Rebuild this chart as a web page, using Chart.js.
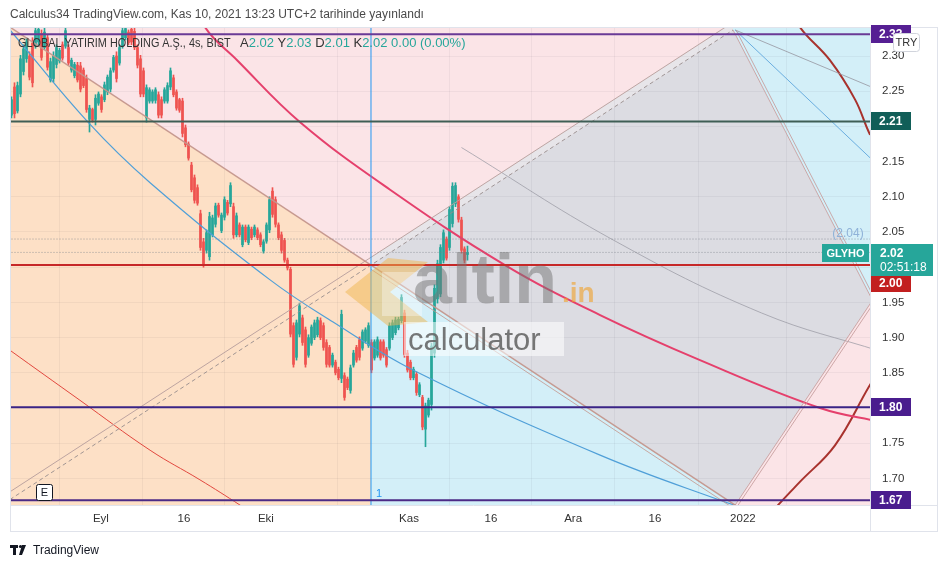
<!DOCTYPE html>
<html lang="tr">
<head>
<meta charset="UTF-8">
<title>GLYHO 4s - BIST</title>
<script src="https://cdn.jsdelivr.net/npm/chart.js"></script>
<style>
  html, body { margin: 0; padding: 0; background: #ffffff; }
  #kutu { width: 949px; height: 568px; }
</style>
</head>
<body>
<div id="kutu"><canvas id="grafik" width="949" height="568"></canvas></div>
<script>
// 4 saatlik mumlar (acilis / yuksek / dusuk / kapanis), Agustos sonu -> 10 Kasim 2021
const opens = [2.216,2.256,2.222,2.246,2.278,2.296,2.300,2.318,2.315,2.320,2.332,2.312,2.326,2.266,2.268,2.288,2.293,2.316,2.314,2.312,
  2.280,2.272,2.287,2.286,2.280,2.268,2.210,2.224,2.210,2.233,2.242,2.238,2.249,2.253,2.280,2.300,2.290,2.314,2.326,2.334,
  2.338,2.335,2.312,2.296,2.279,2.212,2.236,2.236,2.237,2.245,2.238,2.236,2.236,2.256,2.269,2.249,2.238,2.236,2.198,2.175,
  2.145,2.127,2.113,2.076,2.036,2.024,2.015,2.046,2.061,2.088,2.052,2.071,2.092,2.090,2.086,2.046,2.060,2.032,2.057,2.035,
  2.054,2.046,2.053,2.046,2.023,2.037,2.053,2.108,2.096,2.060,2.046,2.038,2.010,1.997,1.917,1.872,1.905,1.928,1.911,1.875,
  1.892,1.900,1.904,1.924,1.917,1.893,1.886,1.861,1.865,1.855,1.842,1.846,1.841,1.825,1.861,1.886,1.897,1.885,1.895,1.889,
  1.893,1.871,1.875,1.894,1.894,1.883,1.885,1.900,1.907,1.914,1.924,1.935,1.878,1.865,1.843,1.848,1.819,1.815,1.770,1.790,
  1.805,1.878,1.955,1.962,2.010,2.040,2.028,2.062,2.090,2.100,2.067,2.026,2.018];
const highs = [2.242,2.262,2.263,2.301,2.316,2.326,2.306,2.326,2.341,2.341,2.337,2.340,2.330,2.297,2.306,2.316,2.311,2.320,2.340,2.316,
  2.297,2.291,2.291,2.291,2.283,2.273,2.230,2.226,2.245,2.249,2.245,2.263,2.273,2.283,2.301,2.306,2.316,2.340,2.341,2.337,
  2.341,2.340,2.316,2.301,2.283,2.259,2.255,2.252,2.255,2.249,2.242,2.255,2.262,2.283,2.273,2.252,2.240,2.240,2.202,2.178,
  2.149,2.131,2.117,2.081,2.041,2.053,2.078,2.074,2.091,2.091,2.077,2.100,2.095,2.120,2.091,2.077,2.063,2.060,2.060,2.060,
  2.057,2.060,2.056,2.049,2.039,2.063,2.100,2.113,2.100,2.063,2.050,2.041,2.013,2.000,1.921,1.925,1.949,1.932,1.915,1.904,
  1.918,1.925,1.929,1.928,1.921,1.897,1.889,1.878,1.868,1.858,1.939,1.850,1.844,1.861,1.882,1.889,1.901,1.911,1.914,1.921,
  1.897,1.897,1.901,1.897,1.897,1.886,1.921,1.925,1.929,1.929,1.961,1.939,1.882,1.868,1.858,1.851,1.836,1.818,1.807,1.814,
  1.892,1.975,2.010,2.032,2.053,2.043,2.086,2.120,2.120,2.103,2.071,2.029,2.030];
const lows = [2.212,2.212,2.219,2.242,2.273,2.291,2.266,2.256,2.311,2.316,2.294,2.309,2.280,2.263,2.263,2.283,2.290,2.294,2.311,2.287,
  2.277,2.269,2.263,2.249,2.255,2.220,2.192,2.206,2.202,2.230,2.220,2.235,2.245,2.249,2.277,2.263,2.287,2.311,2.323,2.316,
  2.316,2.309,2.283,2.242,2.242,2.206,2.233,2.233,2.233,2.212,2.212,2.233,2.233,2.252,2.242,2.223,2.220,2.185,2.171,2.152,
  2.107,2.091,2.088,2.024,2.000,2.020,2.010,2.043,2.057,2.071,2.049,2.067,2.074,2.086,2.041,2.043,2.043,2.029,2.036,2.032,
  2.039,2.043,2.039,2.029,2.020,2.034,2.049,2.071,2.057,2.039,2.020,2.007,1.996,1.901,1.858,1.868,1.901,1.889,1.858,1.872,
  1.889,1.897,1.901,1.897,1.882,1.858,1.858,1.858,1.847,1.840,1.836,1.811,1.826,1.821,1.858,1.865,1.868,1.882,1.892,1.886,
  1.850,1.868,1.872,1.868,1.872,1.858,1.882,1.897,1.904,1.911,1.921,1.872,1.851,1.840,1.840,1.818,1.816,1.769,1.745,1.787,
  1.797,1.872,1.949,1.958,2.006,2.010,2.024,2.057,2.086,2.064,2.020,2.006,2.010];
const closes = [2.238,2.218,2.258,2.296,2.310,2.320,2.270,2.262,2.336,2.338,2.298,2.334,2.284,2.292,2.300,2.312,2.308,2.297,2.336,2.290,
  2.294,2.288,2.266,2.253,2.258,2.224,2.226,2.209,2.240,2.246,2.224,2.259,2.270,2.279,2.298,2.268,2.312,2.336,2.339,2.319,
  2.320,2.312,2.287,2.246,2.246,2.255,2.252,2.249,2.252,2.216,2.216,2.252,2.258,2.279,2.245,2.226,2.223,2.190,2.174,2.155,
  2.110,2.095,2.091,2.028,2.005,2.049,2.072,2.070,2.087,2.074,2.074,2.096,2.077,2.116,2.046,2.073,2.046,2.057,2.039,2.057,
  2.042,2.057,2.042,2.032,2.036,2.060,2.096,2.075,2.061,2.042,2.024,2.010,1.999,1.905,1.862,1.921,1.945,1.893,1.862,1.900,
  1.915,1.921,1.925,1.900,1.886,1.862,1.861,1.875,1.850,1.843,1.933,1.815,1.829,1.857,1.878,1.868,1.872,1.908,1.911,1.917,
  1.854,1.894,1.897,1.871,1.875,1.861,1.917,1.921,1.925,1.926,1.957,1.876,1.854,1.843,1.855,1.822,1.833,1.773,1.803,1.811,
  1.888,1.970,2.005,2.028,2.049,2.013,2.082,2.115,2.116,2.068,2.024,2.010,2.021];

// zaman ekseni (mum sirasi) ve fiyat ekseni etiketleri
const xTickPos = [29.8, 57.5, 84.8, 132.5, 159.8, 187.2, 214.5, 243.8];
const xTickLabels = ['Eyl', '16', 'Eki', 'Kas', '16', 'Ara', '16', '2022'];
const yTickValues = [1.70, 1.75, 1.80, 1.85, 1.90, 1.95, 2.00, 2.05, 2.10, 2.15, 2.20, 2.25, 2.30];

// yatay seviyeler
const levelPrices = [2.331, 2.207, 2.003, 1.801, 1.669];
const prevClose = 2.04;

// cizimlerin capa noktalari (mum sirasi, fiyat)
const diagLine = [[-5, 2.3536], [263.3, 1.600]];
const channelLine = [[-0.5, 1.670], [240.5, 2.337]];
const splitBar = 119.83;
const blueArc = [[-0.5, 2.337], [25.5, 2.206], [46.2, 2.120], [86.2, 1.982], [107.2, 1.922], [133.8, 1.854], [196.2, 1.733], [236.2, 1.669], [250, 1.650]];
const pinkArc = [[62, 2.380], [64.5, 2.341], [75.2, 2.294], [96.2, 2.206], [126.2, 2.110], [164.5, 2.003], [196.2, 1.932], [229.5, 1.868], [269.5, 1.800], [290, 1.780]];
const redArcTop = [[260, 2.370], [262.8, 2.341], [272.8, 2.294], [281.2, 2.238], [286.2, 2.188], [289.5, 2.166]];
const redArcBottom = [[289.5, 1.854], [286.2, 1.833], [274.5, 1.747], [262.8, 1.695], [255.5, 1.662], [252.8, 1.648]];
const thinRedArc = [[-3, 1.890], [-0.5, 1.882], [22.8, 1.811], [46.2, 1.740], [62.8, 1.698], [76.2, 1.662], [79.5, 1.652]];
const zonePeach = [[-5, 2.3536], [119.83, 2.003], [119.83, 1.60], [-5, 1.60]];
const zoneCyanLow = [[119.83, 2.003], [263.3, 1.600], [119.83, 1.600]];
const zoneBox = [[119.83, 2.003], [240.5, 2.337], [287, 1.953], [241.2, 1.662]];
const zoneBand = [[119.83, 2.003], [240.5, 2.337], [240.5, 2.348], [119.83, 2.014]];
const zoneCyanTop = [[240.5, 2.337], [240.5, 2.40], [300, 2.40], [300, 1.846]];

const UP = '#26a69a';
const DOWN = '#ef5350';

const candleColors = opens.map((o, i) => closes[i] >= o ? UP : DOWN);
const wickData = highs.map((h, i) => ({ x: i, y: [lows[i], h] }));
const bodyData = opens.map((o, i) => ({ x: i, y: [Math.min(o, closes[i]), Math.max(o, closes[i])] }));

function cizgi(points, color, width, extra) {
    return Object.assign({
        type: 'line',
        data: points.map(p => ({ x: p[0], y: p[1] })),
        borderColor: color,
        borderWidth: width,
        pointRadius: 0,
        fill: false,
        tension: 0,
        capBezierPoints: false,
        order: 1
    }, extra || {});
}
function kaydir(points, dx, dy) {
    return points.map(p => [p[0] + dx, p[1] + dy]);
}

const levelColors = ['#6a3a96', '#3f5e55', '#c62828', '#3a2486', '#4b2a86'];
const levelSets = levelPrices.map((p, k) => cizgi([[-5, p], [300, p]], levelColors[k], 2));

const datasets = [
    ...levelSets,
    cizgi([[-5, prevClose], [300, prevClose]], 'rgba(120,125,135,0.7)', 1, { borderDash: [1, 2] }),
    cizgi([[-5, closes[closes.length - 1]], [300, closes[closes.length - 1]]], 'rgba(120,125,135,0.7)', 1, { borderDash: [1, 2] }),
    cizgi([[splitBar, 1.5], [splitBar, 2.5]], '#2196f3', 1),
    cizgi(diagLine, 'rgba(196,150,140,0.95)', 1.5),
    cizgi(kaydir([[119.83, 2.003], [263.3, 1.600]], 0, -0.006), 'rgba(196,150,140,0.8)', 1),
    cizgi(channelLine, 'rgba(150,140,140,0.9)', 1, { borderDash: [4, 3] }),
    cizgi(kaydir(channelLine, 0, 0.011), 'rgba(185,160,158,0.95)', 1),
    cizgi([[240.5, 2.337], [287, 1.953]], 'rgba(200,160,160,0.9)', 1),
    cizgi([[241.5, 2.337], [288, 1.953]], 'rgba(200,160,160,0.9)', 1),
    cizgi([[241.2, 1.662], [287, 1.953]], 'rgba(200,160,160,0.9)', 1),
    cizgi([[242.2, 1.662], [288, 1.953]], 'rgba(200,160,160,0.9)', 1),
    cizgi([[241.2, 2.337], [290, 2.140]], '#6aaee0', 1),
    cizgi([[241.2, 2.337], [290, 2.250]], 'rgba(150,150,160,0.8)', 1),
    cizgi([[150, 2.170], [200, 2.040], [250, 1.935], [290, 1.880]], 'rgba(150,150,160,0.7)', 1, { tension: 0.4 }),
    cizgi(blueArc, '#4f9fd8', 1.2, { tension: 0.4 }),
    cizgi(pinkArc, '#e5406c', 2, { tension: 0.4 }),
    cizgi(redArcTop, '#a8322d', 2, { tension: 0.4 }),
    cizgi(redArcBottom, '#a8322d', 2, { tension: 0.4 }),
    cizgi(thinRedArc, '#e2483f', 1, { tension: 0.4 }),
    {
        type: 'bar', data: bodyData, backgroundColor: candleColors,
        barThickness: 2, grouped: false, order: 5, borderSkipped: false
    },
    {
        type: 'bar', data: wickData, backgroundColor: candleColors,
        barThickness: 1, grouped: false, order: 6, borderSkipped: false
    }
];

function noktaya(chart, p) {
    return [chart.scales.x.getPixelForValue(p[0]), chart.scales.y.getPixelForValue(p[1])];
}
function alanBoya(chart, pts, color) {
    const ctx = chart.ctx;
    ctx.beginPath();
    pts.forEach((p, k) => {
        const [a, b] = noktaya(chart, p);
        if (k == 0) ctx.moveTo(a, b); else ctx.lineTo(a, b);
    });
    ctx.closePath();
    ctx.fillStyle = color;
    ctx.fill();
}

const arkaPlan = {
    id: 'arkaPlan',
    beforeDraw(chart) {
        const { ctx, chartArea: a } = chart;
        ctx.save();
        ctx.fillStyle = '#ffffff';
        ctx.fillRect(0, 0, chart.width, chart.height);
        ctx.beginPath();
        ctx.rect(a.left, a.top, a.right - a.left, a.bottom - a.top);
        ctx.clip();
        ctx.fillStyle = '#fbe4e7';
        ctx.fillRect(a.left, a.top, a.right - a.left, a.bottom - a.top);
        alanBoya(chart, zonePeach, '#fde0c6');
        alanBoya(chart, zoneCyanLow, '#d3eff8');
        alanBoya(chart, zoneBox, '#dcdce2');
        alanBoya(chart, zoneBand, '#e7e5e9');
        alanBoya(chart, zoneCyanTop, '#d3eff8');
        ctx.restore();
    }
};

const filigran = {
    id: 'filigran',
    afterDatasetsDraw(chart) {
        const ctx = chart.ctx;
        ctx.save();
        ctx.globalAlpha = 0.5;
        ctx.fillStyle = '#efb64e';
        ctx.beginPath();
        ctx.moveTo(345, 292); ctx.lineTo(388, 258); ctx.lineTo(428, 262);
        ctx.lineTo(390, 292); ctx.lineTo(428, 322); ctx.lineTo(388, 326);
        ctx.closePath();
        ctx.fill();
        ctx.globalAlpha = 0.35;
        ctx.fillStyle = '#ffffff';
        ctx.fillRect(382, 272, 40, 44);
        ctx.globalAlpha = 1;
        ctx.fillStyle = 'rgba(115,115,115,0.5)';
        ctx.font = 'bold 70px "Liberation Sans", Arial, sans-serif';
        ctx.textBaseline = 'alphabetic';
        ctx.fillText('altin', 413, 303);
        ctx.fillStyle = 'rgba(240,160,40,0.6)';
        ctx.font = 'bold 28px "Liberation Sans", Arial, sans-serif';
        ctx.fillText('.in', 562, 302);
        ctx.fillStyle = 'rgba(255,255,255,0.55)';
        ctx.fillRect(404, 322, 160, 34);
        ctx.fillStyle = 'rgba(95,95,95,0.85)';
        ctx.font = '31px "Liberation Sans", Arial, sans-serif';
        ctx.fillText('calculator', 408, 350);
        ctx.restore();
    }
};

function rozet(ctx, y, text, bg, x, w) {
    ctx.fillStyle = bg;
    ctx.fillRect(x, Math.round(y) - 9, w, 18);
    ctx.fillStyle = '#ffffff';
    ctx.font = 'bold 12px "Liberation Sans", Arial, sans-serif';
    ctx.textAlign = 'left';
    ctx.textBaseline = 'middle';
    ctx.fillText(text, x + 8, Math.round(y) + 1);
}

const etiketler = {
    id: 'etiketler',
    afterDraw(chart) {
        const { ctx, chartArea: a } = chart;
        const y = chart.scales.y;
        const x = chart.scales.x;
        ctx.save();

        // cerceve
        ctx.strokeStyle = '#e0e3eb';
        ctx.lineWidth = 1;
        ctx.strokeRect(10.5, a.top + 0.5, 927, 531 - a.top);
        ctx.beginPath();
        ctx.moveTo(a.right + 0.5, a.top); ctx.lineTo(a.right + 0.5, 531);
        ctx.moveTo(10, a.bottom + 0.5); ctx.lineTo(937, a.bottom + 0.5);
        ctx.stroke();

        // baslik
        ctx.textAlign = 'left';
        ctx.textBaseline = 'alphabetic';
        ctx.fillStyle = '#4a4a4a';
        ctx.font = '12px "Liberation Sans", Arial, sans-serif';
        ctx.fillText('Calculus34 TradingView.com, Kas 10, 2021 13:23 UTC+2 tarihinde yayınlandı', 10, 18);

        // sembol lejanti: ad dar yazilir, degerler normal
        const n = opens.length - 1;
        const ad = 'GLOBAL YATIRIM HOLDING A.Ş., 4s, BIST';
        ctx.font = '13px "Liberation Sans", Arial, sans-serif';
        ctx.fillStyle = '#333333';
        ctx.save();
        ctx.translate(18, 0);
        ctx.scale(0.835, 1);
        ctx.fillText(ad, 0, 47);
        ctx.restore();
        const parts = [
            ['A', '#333333'], [opens[n].toFixed(2) + ' ', UP],
            ['Y', '#333333'], [highs[n].toFixed(2) + ' ', UP],
            ['D', '#333333'], [lows[n].toFixed(2) + ' ', UP],
            ['K', '#333333'], [closes[n].toFixed(2) + ' ', UP],
            ['0.00 (0.00%)', UP]
        ];
        let lx = 240;
        parts.forEach(p => {
            ctx.fillStyle = p[1];
            ctx.fillText(p[0], lx, 47);
            lx += ctx.measureText(p[0]).width;
        });

        // seviye rozetleri
        const bx = a.right + 1;
        rozet(ctx, y.getPixelForValue(levelPrices[0]), levelPrices[0].toFixed(2), '#561f93', bx, 40);
        rozet(ctx, y.getPixelForValue(levelPrices[1]), levelPrices[1].toFixed(2), '#115e58', bx, 40);
        rozet(ctx, y.getPixelForValue(levelPrices[3]), levelPrices[3].toFixed(2), '#4a1d8e', bx, 40);
        rozet(ctx, y.getPixelForValue(levelPrices[4]), levelPrices[4].toFixed(2), '#4a1d8e', bx, 40);
        rozet(ctx, y.getPixelForValue(levelPrices[2]) + 18, levelPrices[2].toFixed(2), '#c21f1f', bx, 40);

        // son fiyat
        const yl = Math.round(y.getPixelForValue(closes[n]));
        ctx.fillStyle = UP;
        ctx.fillRect(bx, yl - 8, 62, 32);
        ctx.fillRect(a.right - 48, yl - 8, 47, 18);
        ctx.fillStyle = '#ffffff';
        ctx.font = 'bold 12px "Liberation Sans", Arial, sans-serif';
        ctx.textBaseline = 'middle';
        ctx.fillText(closes[n].toFixed(2), bx + 9, yl + 2);
        ctx.font = '12px "Liberation Sans", Arial, sans-serif';
        ctx.fillText('02:51:18', bx + 9, yl + 16);
        ctx.font = 'bold 11px "Liberation Sans", Arial, sans-serif';
        ctx.textAlign = 'center';
        ctx.fillText('GLYHO', a.right - 24.5, yl + 2);
        ctx.fillStyle = '#8fb2d8';
        ctx.font = '12px "Liberation Sans", Arial, sans-serif';
        ctx.fillText('(' + prevClose.toFixed(2) + ')', a.right - 22, y.getPixelForValue(prevClose) - 5);

        // TRY kutusu
        ctx.fillStyle = '#ffffff';
        ctx.strokeStyle = '#d1d4dc';
        ctx.beginPath();
        ctx.roundRect(893.5, 33.5, 26, 18, 3);
        ctx.fill();
        ctx.stroke();
        ctx.fillStyle = '#333333';
        ctx.font = '11px "Liberation Sans", Arial, sans-serif';
        ctx.fillText('TRY', 906.5, 43);

        // E isareti ve 1
        ctx.beginPath();
        ctx.roundRect(36.5, 484.5, 16, 16, 2);
        ctx.fillStyle = '#ffffff';
        ctx.fill();
        ctx.strokeStyle = '#131722';
        ctx.stroke();
        ctx.fillStyle = '#131722';
        ctx.fillText('E', 44.5, 493);
        ctx.fillStyle = '#2196f3';
        ctx.fillText('1', x.getPixelForValue(splitBar) + 8, 494);

        // alt logo
        ctx.fillStyle = '#131722';
        ctx.fillRect(10, 545, 8, 3);
        ctx.fillRect(13, 545, 3, 10);
        ctx.beginPath();
        ctx.arc(20.5, 546.5, 1.6, 0, Math.PI * 2);
        ctx.fill();
        ctx.beginPath();
        ctx.moveTo(22, 545); ctx.lineTo(26, 545); ctx.lineTo(22, 555); ctx.lineTo(19, 555);
        ctx.closePath();
        ctx.fill();
        ctx.textAlign = 'left';
        ctx.font = '12px "Liberation Sans", Arial, sans-serif';
        ctx.fillText('TradingView', 33, 551);
        ctx.restore();
    }
};

Chart.defaults.font.family = '"Liberation Sans", Arial, sans-serif';

const grafik = new Chart(document.getElementById('grafik'), {
    type: 'bar',
    data: { datasets: datasets },
    options: {
        responsive: false,
        animation: false,
        devicePixelRatio: 1,
        layout: { padding: { left: 10, top: 27, right: 12, bottom: 37 } },
        plugins: { legend: { display: false }, tooltip: { enabled: false } },
        scales: {
            x: {
                type: 'linear',
                min: -0.5,
                max: 286.17,
                offset: false,
                afterBuildTicks: s => { s.ticks = xTickPos.map(v => ({ value: v })); },
                afterFit: s => { s.height = 26; },
                ticks: {
                    autoSkip: false, maxRotation: 0, padding: 7,
                    color: '#333333', font: { size: 11.5 },
                    callback: (v, i) => xTickLabels[i]
                },
                grid: { color: 'rgba(42,46,57,0.05)', drawTicks: false },
                border: { display: false }
            },
            y: {
                position: 'right',
                min: 1.6622,
                max: 2.3412,
                afterBuildTicks: s => { s.ticks = yTickValues.map(v => ({ value: v })); },
                afterFit: s => { s.width = 67; },
                ticks: {
                    padding: 12, color: '#333333', font: { size: 11.5 },
                    // rozetlerin altinda kalan etiketler gizli
                    callback: v => levelPrices.some(p => Math.abs(p - v) < 0.015) ? '' : v.toFixed(2)
                },
                grid: { color: 'rgba(42,46,57,0.05)', drawTicks: false },
                border: { display: false }
            }
        }
    },
    plugins: [arkaPlan, filigran, etiketler]
});
</script>
</body>
</html>
